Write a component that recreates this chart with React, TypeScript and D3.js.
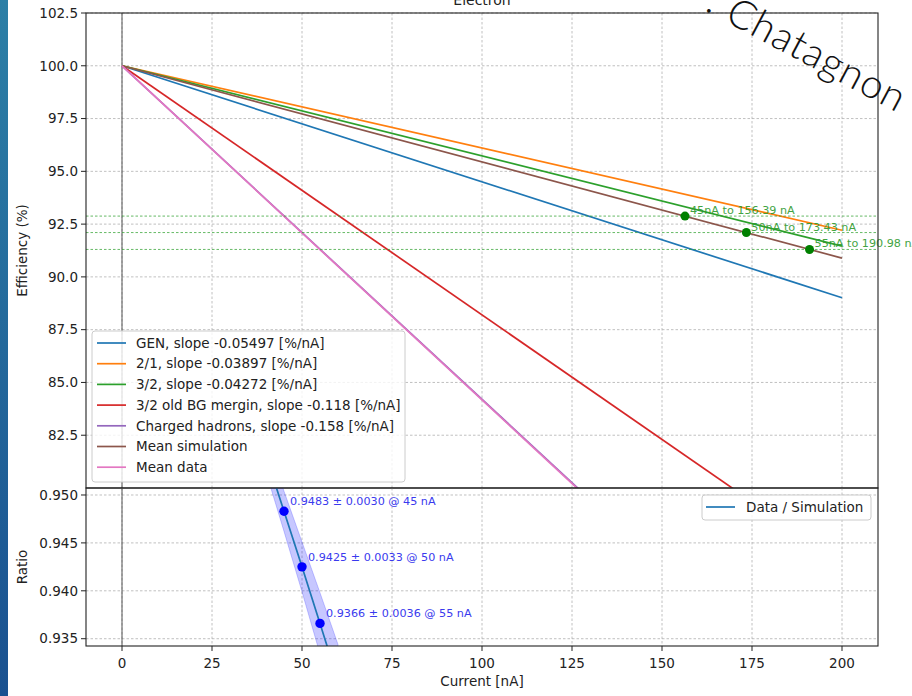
import React from "react";
import * as d3 from "d3";

// ---- data ----
const lineNames = [
  "GEN, slope -0.05497 [%/nA]",
  "2/1, slope -0.03897 [%/nA]",
  "3/2, slope -0.04272 [%/nA]",
  "3/2 old BG mergin, slope -0.118 [%/nA]",
  "Charged hadrons, slope -0.158 [%/nA]",
  "Mean simulation",
  "Mean data",
];
const lineColors = ["#1f77b4", "#ff7f0e", "#2ca02c", "#d62728", "#9467bd", "#8c564b", "#e377c2"];
const lineCurrents = [0, 200];
const lineStartEff = [100, 100, 100, 100, 100, 100, 100];
const lineEndEff = [89.01, 92.21, 91.46, 76.4, 68.4, 90.89, 68.34];

const simCurrents = [156.39, 173.43, 190.98];
const matchEff = [92.88, 92.1, 91.3];
const dataCurrents = [45, 50, 55];
const matchLabels = ["45nA to 156.39 nA", "50nA to 173.43 nA", "55nA to 190.98 nA"];

const ratioVals = [0.9483, 0.9425, 0.9366];
const ratioLabels = [
  "0.9483 ± 0.0030 @ 45 nA",
  "0.9425 ± 0.0033 @ 50 nA",
  "0.9366 ± 0.0036 @ 55 nA",
];
const ratioCurveX = [40, 45, 50, 55, 60];
const ratioCurveY = [0.9541, 0.9483, 0.9425, 0.9366, 0.9306];
const ratioBandHalf = [0.0017, 0.0021, 0.0026, 0.0032, 0.0038];

const xTicks = [0, 25, 50, 75, 100, 125, 150, 175, 200];
const yTopTicks = [82.5, 85, 87.5, 90, 92.5, 95, 97.5, 100, 102.5];
const yBotTicks = [0.935, 0.94, 0.945, 0.95];

const W = 912;
const H = 696;
const L = 86;
const R = 878;
const TOP_T = 13;
const TOP_B = 488;
const BOT_T = 488;
const BOT_B = 646;
const FONT = "DejaVu Sans, sans-serif";
const FS = 13.5;

export default function App() {
  const x = d3.scaleLinear().domain([-10, 210]).range([L, R]);
  const yT = d3.scaleLinear().domain([80, 102.5]).range([TOP_B, TOP_T]);
  const yB = d3.scaleLinear().domain([0.93424, 0.95073]).range([BOT_B, BOT_T]);

  const line2 = d3
    .line<[number, number]>()
    .x((d) => x(d[0]))
    .y((d) => yT(d[1]));

  const ratioLine = d3
    .line<number>()
    .x((_, i) => x(ratioCurveX[i]))
    .y((d) => yB(d));
  const band = d3
    .area<number>()
    .x((_, i) => x(ratioCurveX[i]))
    .y0((d, i) => yB(d - ratioBandHalf[i]))
    .y1((d, i) => yB(d + ratioBandHalf[i]));

  const gridStyle = { stroke: "#b0b0b0", strokeWidth: 0.8, strokeDasharray: "2.5,2" };

  return (
    <div style={{ position: "fixed", left: 0, top: 0 }}>
      <svg width={W} height={H} style={{ display: "block", fontFamily: FONT }}>
        <defs>
          <linearGradient id="strip" x1="0" y1="0" x2="0" y2="1">
            <stop offset="0" stopColor="#2c7fa6" />
            <stop offset="1" stopColor="#1a5190" />
          </linearGradient>
          <clipPath id="clipTop">
            <rect x={L} y={TOP_T} width={R - L} height={TOP_B - TOP_T} />
          </clipPath>
          <clipPath id="clipBot">
            <rect x={L} y={BOT_T} width={R - L} height={BOT_B - BOT_T} />
          </clipPath>
        </defs>
        <rect x={0} y={0} width={W} height={H} fill="#ffffff" />
        <rect x={0} y={0} width={8} height={H} fill="url(#strip)" />

        {/* title (cut off at the top in the reference) */}
        <text x={(L + R) / 2} y={5} textAnchor="middle" fontSize={14} fill="#222">
          Electron
        </text>

        {/* ---------- top panel ---------- */}
        <g>
          {xTicks.map((t) => (
            <line key={"gx" + t} x1={x(t)} x2={x(t)} y1={TOP_T} y2={TOP_B} style={gridStyle} />
          ))}
          {yTopTicks.map((t) => (
            <line key={"gy" + t} x1={L} x2={R} y1={yT(t)} y2={yT(t)} style={gridStyle} />
          ))}
          <line x1={x(0)} x2={x(0)} y1={TOP_T} y2={TOP_B} stroke="#555" strokeWidth={1} />
          <g clipPath="url(#clipTop)">
            {lineNames.map((n, i) => (
              <path
                key={n}
                d={line2([
                  [lineCurrents[0], lineStartEff[i]],
                  [lineCurrents[1], lineEndEff[i]],
                ]) as string}
                fill="none"
                stroke={lineColors[i]}
                strokeWidth={1.7}
              />
            ))}
            {matchEff.map((e, i) => (
              <line
                key={"h" + i}
                x1={L}
                x2={R}
                y1={yT(e)}
                y2={yT(e)}
                stroke="#2ca02c"
                strokeWidth={0.9}
                strokeDasharray="2.5,2"
                opacity={0.8}
              />
            ))}
            {simCurrents.map((c, i) => (
              <circle key={"p" + i} cx={x(c)} cy={yT(matchEff[i])} r={4.5} fill="#008000" />
            ))}
          </g>
          {simCurrents.map((c, i) => (
            <text
              key={"po" + i}
              x={x(c) + 5}
              y={yT(matchEff[i]) - 2}
              fontSize={11.2}
              fill="#2e9a2e"
              opacity={0.9}
            >
              {matchLabels[i]}
            </text>
          ))}
          <rect x={L} y={TOP_T} width={R - L} height={TOP_B - TOP_T} fill="none" stroke="#222" strokeWidth={1.1} />
          {yTopTicks.map((t) => (
            <g key={"ty" + t}>
              <line x1={L - 5} x2={L} y1={yT(t)} y2={yT(t)} stroke="#222" />
              <text x={L - 8} y={yT(t)} dy="0.35em" textAnchor="end" fontSize={FS} fill="#222">
                {t.toFixed(1)}
              </text>
            </g>
          ))}
          <text
            transform={`translate(22,${(TOP_T + TOP_B) / 2}) rotate(-90)`}
            textAnchor="middle"
            dy="0.35em"
            fontSize={FS}
            fill="#222"
          >
            Efficiency (%)
          </text>

          {/* legend */}
          <rect x={92} y={331} width={313} height={151} rx={3} fill="#fff" fillOpacity={0.8} stroke="#cccccc" />
          {lineNames.map((n, i) => {
            const yy = 343 + i * 20.7;
            return (
              <g key={"lg" + n}>
                <line x1={97} x2={126} y1={yy} y2={yy} stroke={lineColors[i]} strokeWidth={1.7} />
                <text x={136} y={yy} dy="0.35em" fontSize={FS} fill="#222">
                  {n}
                </text>
              </g>
            );
          })}
        </g>

        {/* ---------- bottom panel ---------- */}
        <g>
          {xTicks.map((t) => (
            <line key={"bgx" + t} x1={x(t)} x2={x(t)} y1={BOT_T} y2={BOT_B} style={gridStyle} />
          ))}
          {yBotTicks.map((t) => (
            <line key={"bgy" + t} x1={L} x2={R} y1={yB(t)} y2={yB(t)} style={gridStyle} />
          ))}
          <line x1={x(0)} x2={x(0)} y1={BOT_T} y2={BOT_B} stroke="#555" strokeWidth={1} />
          <g clipPath="url(#clipBot)">
            <path d={band(ratioCurveY) as string} fill="#0000ff" fillOpacity={0.22} stroke="#0000ff" strokeOpacity={0.2} />
            <path d={ratioLine(ratioCurveY) as string} fill="none" stroke="#1f77b4" strokeWidth={1.7} />
            {dataCurrents.map((c, i) => (
              <circle key={"rp" + i} cx={x(c)} cy={yB(ratioVals[i])} r={4.7} fill="#0000ff" />
            ))}
          </g>
          {dataCurrents.map((c, i) => (
            <text
              key={"rl" + i}
              x={x(c) + 6}
              y={yB(ratioVals[i]) - 6}
              fontSize={11.2}
              fill="#3a3aee"
            >
              {ratioLabels[i]}
            </text>
          ))}
          <rect x={L} y={BOT_T} width={R - L} height={BOT_B - BOT_T} fill="none" stroke="#222" strokeWidth={1.1} />
          {yBotTicks.map((t) => (
            <g key={"tby" + t}>
              <line x1={L - 5} x2={L} y1={yB(t)} y2={yB(t)} stroke="#222" />
              <text x={L - 8} y={yB(t)} dy="0.35em" textAnchor="end" fontSize={FS} fill="#222">
                {t.toFixed(3)}
              </text>
            </g>
          ))}
          {xTicks.map((t) => (
            <g key={"tbx" + t}>
              <line x1={x(t)} x2={x(t)} y1={BOT_B} y2={BOT_B + 5} stroke="#222" />
              <text x={x(t)} y={BOT_B + 17} dy="0.35em" textAnchor="middle" fontSize={FS} fill="#222">
                {t}
              </text>
            </g>
          ))}
          <text
            transform={`translate(22,${(BOT_T + BOT_B) / 2}) rotate(-90)`}
            textAnchor="middle"
            dy="0.35em"
            fontSize={FS}
            fill="#222"
          >
            Ratio
          </text>
          <text x={(L + R) / 2} y={681} dy="0.35em" textAnchor="middle" fontSize={FS} fill="#222">
            Current [nA]
          </text>
          {/* ratio legend */}
          <rect x={702} y={495} width={169} height={25} rx={3} fill="#fff" fillOpacity={0.8} stroke="#cccccc" />
          <line x1={706} x2={735} y1={507} y2={507} stroke="#1f77b4" strokeWidth={1.7} />
          <text x={746} y={507} dy="0.35em" fontSize={FS} fill="#222">
            Data / Simulation
          </text>
        </g>

        {/* slide overlay text */}
        <text
          transform="translate(704,10) rotate(28)"
          fontFamily="Lato, sans-serif"
          fontSize={40}
          fontWeight={300}
          fill="#111"
          letterSpacing={1}
        >
          . Chatagnon
        </text>
      </svg>
    </div>
  );
}
